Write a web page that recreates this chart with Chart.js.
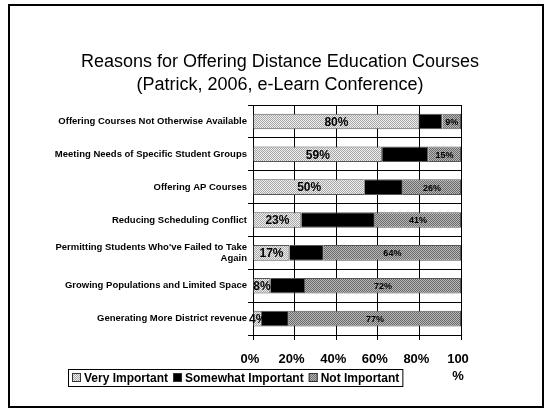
<!DOCTYPE html>
<html>
<head>
<meta charset="utf-8">
<script src="https://cdn.jsdelivr.net/npm/chart.js@4.4.1/dist/chart.umd.min.js"></script>
<style>
  body { margin: 0; background: #fff; }
  #wrap { width: 551px; height: 415px; position: relative; }
</style>
</head>
<body>
<div id="wrap"><canvas id="graph-canvas"></canvas></div>
<script>
// data (excel 100% stacked bar, raw percents)
let titleLines = ['Reasons for Offering Distance Education Courses', '(Patrick, 2006, e-Learn Conference)'];
let categories = [
  'Offering Courses Not Otherwise Available',
  'Meeting Needs of Specific Student Groups',
  'Offering AP Courses',
  'Reducing Scheduling Conflict',
  ['Permitting Students Who\'ve Failed to Take', 'Again'],
  'Growing Populations and Limited Space',
  'Generating More District revenue'
];
let veryImportant = [80, 59, 50, 23, 17, 8, 4];
let somewhatImportant = [11, 21, 17, 35, 16, 16, 12];
let notImportant = [9, 15, 26, 41, 64, 72, 77];
let xTicks = [0, 20, 40, 60, 80, 100];

const FONT = '"Liberation Sans", Arial, sans-serif';

function makePattern(bg, fg) {
  let c = document.createElement('canvas');
  c.width = 2; c.height = 2;
  let g = c.getContext('2d');
  g.fillStyle = bg; g.fillRect(0, 0, 2, 2);
  g.fillStyle = fg; g.fillRect(0, 0, 1, 1); g.fillRect(1, 1, 1, 1);
  return g.createPattern(c, 'repeat');
}
let lightFill = makePattern('#eeeeee', '#a8a8a8');
let darkFill = makePattern('#b8b8b8', '#6a6a6a');

// normalise each row to 100 like excel does
let totals = veryImportant.map((v, i) => v + somewhatImportant[i] + notImportant[i]);
function norm(arr) { return arr.map((v, i) => v / totals[i] * 100); }

let chartdata = {
  labels: categories,
  datasets: [
    { label: 'Very Important', data: norm(veryImportant), raw: veryImportant, backgroundColor: lightFill, labelSize: 12 },
    { label: 'Somewhat Important', data: norm(somewhatImportant), raw: null, backgroundColor: '#000000' },
    { label: 'Not Important', data: norm(notImportant), raw: notImportant, backgroundColor: darkFill, labelSize: 9 }
  ]
};
chartdata.datasets.forEach(function (d) {
  d.borderColor = '#555555';
  d.borderWidth = 1;
  d.barPercentage = 0.5;
  d.categoryPercentage = 0.95;
});

// slide frame, title, value labels and the boxed legend
let slideBits = {
  id: 'slideBits',
  afterDatasetsDraw(chart) {
    let ctx = chart.ctx;
    ctx.save();
    ctx.textAlign = 'center';
    ctx.textBaseline = 'middle';
    ctx.fillStyle = '#000';
    chart.data.datasets.forEach(function (ds, di) {
      if (!ds.raw) return;
      ctx.font = 'bold ' + ds.labelSize + 'px ' + FONT;
      chart.getDatasetMeta(di).data.forEach(function (bar, i) {
        let cx = (bar.x + bar.base) / 2;
        ctx.fillText(ds.raw[i] + '%', cx, bar.y + 1);
      });
    });
    ctx.restore();
  },
  afterDraw(chart) {
    let ctx = chart.ctx;
    ctx.save();
    ctx.strokeStyle = '#000';
    ctx.lineWidth = 2;
    ctx.strokeRect(9, 5, 534, 402);
    // title
    ctx.fillStyle = '#000';
    ctx.font = '18px ' + FONT;
    ctx.textAlign = 'center';
    ctx.textBaseline = 'middle';
    ctx.fillText(titleLines[0], 280, 62);
    ctx.fillText(titleLines[1], 280, 85);
    // legend
    let lx = 68, ly = 369, lh = 17;
    ctx.font = 'bold 12px ' + FONT;
    ctx.textAlign = 'left';
    let x = lx + 4;
    chart.data.datasets.forEach(function (ds) {
      ctx.fillStyle = ds.backgroundColor;
      ctx.fillRect(x, ly + 4, 9, 9);
      ctx.lineWidth = 1;
      ctx.strokeStyle = '#333';
      ctx.strokeRect(x + 0.5, ly + 4.5, 8, 8);
      ctx.fillStyle = '#000';
      ctx.fillText(ds.label, x + 12, ly + lh / 2 + 1);
      x += 12 + ctx.measureText(ds.label).width + 5;
    });
    ctx.lineWidth = 1;
    ctx.strokeStyle = '#000';
    ctx.strokeRect(lx + 0.5, ly + 0.5, x - lx - 2, lh);
    ctx.restore();
  }
};

let graphTarget = document.getElementById('graph-canvas');
let barGraph = new Chart(graphTarget, {
  type: 'bar',
  data: chartdata,
  plugins: [slideBits],
  options: {
    indexAxis: 'y',
    responsive: true,
    maintainAspectRatio: false,
    animation: false,
    layout: { padding: { left: 8, right: 90, top: 105, bottom: 0 } },
    plugins: {
      legend: { display: false },
      tooltip: { enabled: false },
      title: { display: false }
    },
    scales: {
      x: {
        stacked: true,
        min: 0,
        max: 100,
        afterBuildTicks: function (scale) { scale.ticks = xTicks.map(v => ({ value: v })); },
        afterFit: function (scale) { scale.height = 80; },
        grid: { color: '#000', lineWidth: 1, tickLength: 5, drawTicks: true },
        border: { color: '#000' },
        ticks: {
          color: '#000',
          padding: 11,
          labelOffset: -3,
          maxRotation: 0,
          font: { size: 13, weight: 'bold', family: FONT, lineHeight: 1.3 },
          callback: function (v) { return v === 100 ? ['100', '%'] : v + '%'; }
        }
      },
      y: {
        stacked: true,
        afterFit: function (scale) { scale.width = 245; },
        grid: { color: '#000', lineWidth: 1, tickLength: 5, offset: true },
        border: { color: '#000' },
        ticks: {
          color: '#000',
          padding: 1,
          font: { size: 9.5, weight: 'bold', family: FONT, lineHeight: 1.15 }
        }
      }
    }
  }
});
</script>
</body>
</html>
